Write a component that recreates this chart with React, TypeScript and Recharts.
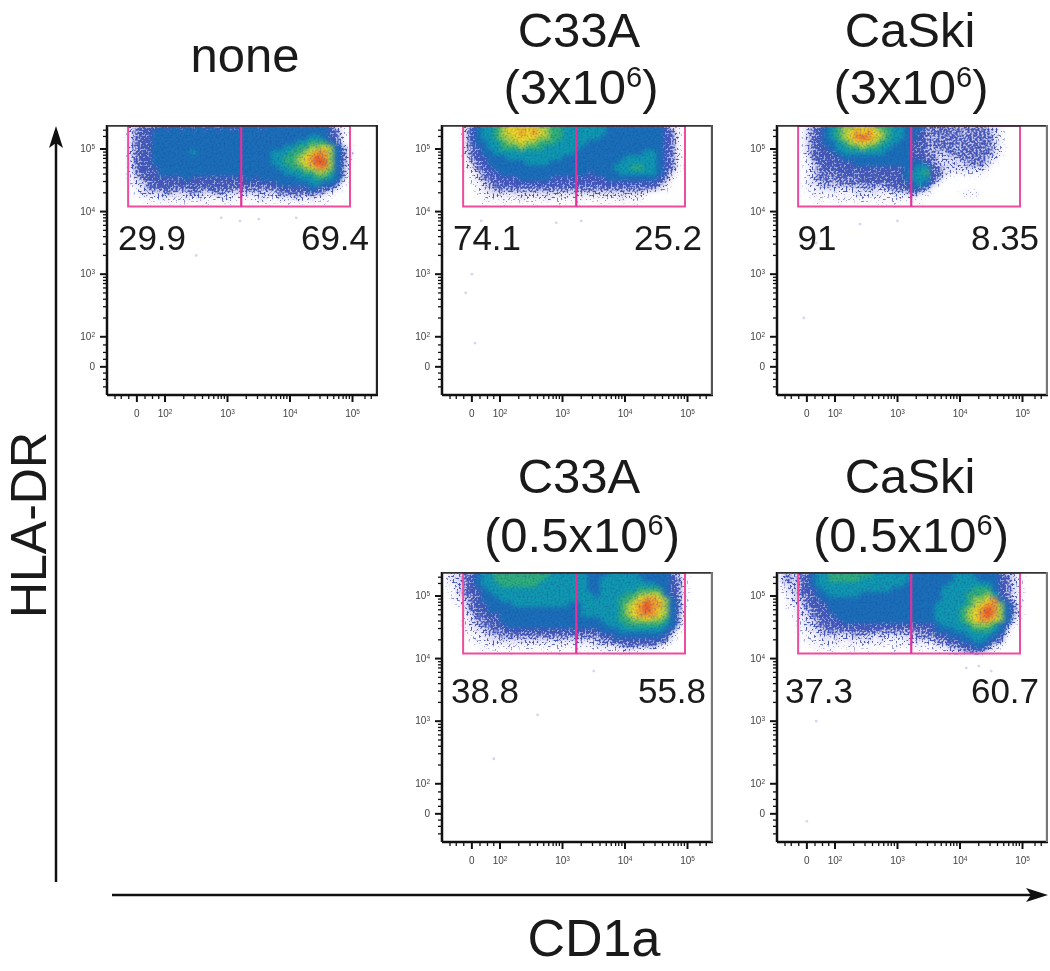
import React from "react";
import { ScatterChart, Scatter, XAxis, YAxis } from "recharts";

const FONT = "'Liberation Sans', Arial, sans-serif";

// Sample labels and gate percentages
const panelNames = ["none", "C33A 3", "CaSki 3", "C33A 0.5", "CaSki 0.5"];
const leftGate = ["29.9", "74.1", "91", "38.8", "37.3"];
const rightGate = ["69.4", "25.2", "8.35", "55.8", "60.7"];

// Axis tick values, in decades on the display scale
const majorX = [1.55, 2, 3, 4, 5];
const majorY = [1.52, 2, 3, 4, 5];
const tickName: Record<string, string> = { "1.55": "0", "1.52": "0", "2": "2", "3": "3", "4": "4", "5": "5" };
const minorX = [1.2, 1.3, 1.42, 1.68, 1.8, 1.9, 2.3, 2.48, 2.6, 2.7, 2.78, 2.85, 2.9, 2.95, 3.3, 3.48, 3.6, 3.7, 3.78, 3.85, 3.9, 3.95, 4.3, 4.48, 4.6, 4.7, 4.78, 4.85, 4.9, 4.95, 5.2, 5.3];
const minorY = [1.2, 1.32, 1.42, 1.64, 1.75, 1.87, 2.3, 2.48, 2.6, 2.7, 2.78, 2.85, 2.9, 2.95, 3.3, 3.48, 3.6, 3.7, 3.78, 3.85, 3.9, 3.95, 4.3, 4.48, 4.6, 4.7, 4.78, 4.85, 4.9, 4.95, 5.2, 5.3];

// Gate, in axis units
const gateLeft = 1.41;
const gateRight = 4.96;
const gateDivide = 3.22;
const gateBottom = 4.08;
const gateTop = 5.37;
const xMax = 5.408;
const xMin = 1.072;
const yMax = 5.383;
const yMin = 1.07;

// Density grid: one string per row, top to bottom; each char is a density level
const gridStartX = [1.456, 1.456, 1.456, 1.156, 1.156];
const gridStepX = 0.1;
const gridStartY = 5.335;
const gridStepY = 0.08;

const densityNone = [
  "2344454545454545445554" + "55555555554210",
  "2344555555555555555555" + "55555555554310",
  "2344555555555555555555" + "55555556654310",
  "2344555555555555555555" + "55555667775310",
  "2344555555555555555555" + "55566778898531",
  "2344555555655555555555" + "56667789aa8531",
  "2344555555555555555555" + "5667789aba8531",
  "2344555555555555555555" + "5667789abb8531",
  "2344455555555555555555" + "55667789aa8530",
  "1344455555555555555555" + "55566677887530",
  "1234444445444444444545" + "55555666776520",
  "1223444444444444444444" + "44555556655310",
  "0123334333433434333333" + "33444445443200",
  "0122223222322232222222" + "22333333321000",
  "0011121112121112111112" + "11212212110000",
  "0001001010001000100010" + "10010101010000",
];
const densityC33A3 = [
  "245667899999887766666665555555554210",
  "245667899a9a987766666665555555554310",
  "245667889999887766666655555555554310",
  "235566788988777666665555555555554310",
  "234566777877766666655555555555554310",
  "234556666666666666555555555556654310",
  "134455566666666655555555556666654310",
  "123455555566665555555555566666654310",
  "123445555555555555555555666776654310",
  "012344555555555555554555566666653200",
  "012334444555554444444445555555543100",
  "011233444444444444444444444444432000",
  "001223333333333333333333333333321000",
  "001122222222222222222222222221000000",
  "000111111211121111111111121110000000",
  "000100100001000100100010000100000000",
];
const densityCaSki3 = [
  "023456788999877665553333333333221000",
  "023456789a9a987665543333332333321000",
  "023456789aba987665543233333333321000",
  "023455678999876655443333333333321000",
  "023445667787766555443233323333321000",
  "023444566666665555443322333333321000",
  "013444455555555555443322223333220000",
  "012344444555555555554322222333200000",
  "012344444444444445566432222222100000",
  "012333344444444445667432111111000000",
  "012333333344444445666431000000000000",
  "012232333333333444565310000000000000",
  "011222222223223334543100000000000000",
  "001111111221211222321000001110000000",
  "001101111111111111100000000000000000",
  "000100100010010100010000000000000000",
];
const densityC33A05 = [
  "122" + "3456677777777766666655" + "56666655555421",
  "122" + "3456677777777666666655" + "66666665555431",
  "112" + "3456667777776666666655" + "66666666655431",
  "012" + "3445666666666666666655" + "66666677775431",
  "012" + "3345566666666666666665" + "66667788985431",
  "011" + "2345556666666666666666" + "6667789aa98531",
  "001" + "2344555566666666655666" + "666789abaa8531",
  "000" + "2344555555555555555666" + "666789aba98531",
  "000" + "1234445555555555555666" + "666789aaa98530",
  "000" + "1233445555555555555555" + "66677889887530",
  "000" + "1223344555555555555555" + "56667777776520",
  "000" + "1122333444444444444444" + "55566666665310",
  "000" + "0112223333333333333333" + "44555555554200",
  "000" + "0111222222222222222222" + "33444444443100",
  "000" + "0011111111111111111112" + "22233333321000",
  "000" + "0001010100100101001010" + "11112111100000",
];
const densityCaSki05 = [
  "232" + "3456677777776666665555" + "55566655554321",
  "232" + "3456677777666666665555" + "55566665554321",
  "122" + "3456666666666666655555" + "55666666654321",
  "122" + "3445666666666665555555" + "56666677754321",
  "012" + "3345566666555555555555" + "56666777864321",
  "012" + "2344555555555555555555" + "566667889a5321",
  "011" + "2344455555555555555555" + "66666789aa8531",
  "001" + "2234455555555555555555" + "666678 9aba8531".split(" ").join(""),
  "001" + "2234445555555555555555" + "6666789aba8531",
  "000" + "1223444555555555555555" + "6666789aa98520",
  "000" + "1223344444444444444444" + "56666788875310",
  "000" + "1122333333443333333334" + "55566677765200",
  "000" + "0112222223222222222333" + "44555666654100",
  "000" + "0111212121221211122222" + "33445566543000",
  "000" + "0011111011101101111111" + "22334455321000",
  "000" + "0001010010010001000101" + "11223443210000",
];
densityCaSki05[7] = "001" + "2234455555555555555555" + "6666789aba8531";
const densityGrids = [densityNone, densityC33A3, densityCaSki3, densityC33A05, densityCaSki05];

// Stray events outside the main population
const straysNone = [[2.9, 3.9], [3.2, 3.85], [3.5, 3.88], [4.1, 3.9], [2.5, 3.3]];
const straysC33A3 = [[1.55, 3.0], [1.45, 2.7], [1.7, 3.85], [2.9, 3.82], [3.3, 3.85], [1.6, 1.9]];
const straysCaSki3 = [[1.7, 3.5], [1.5, 2.3], [2.4, 3.8], [3.0, 3.85]];
const straysC33A05 = [[2.6, 3.1], [1.9, 2.4], [3.5, 3.8]];
const straysCaSki05 = [[4.3, 3.88], [4.5, 3.8], [4.1, 3.85], [1.7, 3.0], [1.55, 1.4]];
const straySets = [straysNone, straysC33A3, straysCaSki3, straysC33A05, straysCaSki05];

// Layout
const panelLeft = [107, 442, 777, 442, 777];
const panelTop = [125, 125, 125, 572, 572];
const panelRightStroke = ["#222", "#555", "#777", "#777", "#777"];
const PW = 271;
const PH = 270;
const ML = 45;
const MT = 8;
const MR = 8;
const MB = 28;

const levelColors: Record<string, string> = {
  "5": "#1a6fb8",
  "6": "#0f9ab0",
  "7": "#2fb277",
  "8": "#a6d245",
  "9": "#f3da22",
  a: "#f8962a",
  b: "#ef5424",
};
const sparseColors: Record<string, [string, number]> = {
  "1": ["#c4baec", 0.2],
  "2": ["#9b96de", 0.42],
  "3": ["#5f66c4", 0.66],
  "4": ["#2f5cb4", 0.88],
};

const Sup = ({ n }: { n: string }) => <tspan dy={-3} fontSize={6.5}>{n}</tspan>;

const XTick = ({ x, y, payload }: any) => {
  const name = tickName[String(payload.value)];
  const major = name !== undefined;
  return (
    <g>
      <line x1={x} x2={x} y1={y} y2={y + (major ? 7 : 4)} stroke="#111" strokeWidth={major ? 2 : 1.3} />
      {major && (
        <text x={x} y={y + 22} textAnchor="middle" fontSize={10} fill="#444" fontFamily={FONT}>
          {name === "0" ? "0" : <>10<Sup n={name} /></>}
        </text>
      )}
    </g>
  );
};
const YTick = ({ x, y, payload }: any) => {
  const name = tickName[String(payload.value)];
  const major = name !== undefined;
  return (
    <g>
      <line x1={x} x2={x - (major ? 7 : 4)} y1={y} y2={y} stroke="#111" strokeWidth={major ? 2 : 1.3} />
      {major && (
        <text x={x - 12} y={y + 3} textAnchor="end" fontSize={10} fill="#444" fontFamily={FONT}>
          {name === "0" ? "0" : <>10<Sup n={name} /></>}
        </text>
      )}
    </g>
  );
};

const DenseCell = ({ cx, cy, payload }: any) => (
  <rect x={cx - 3.6} y={cy - 3} width={7.2} height={6} fill={levelColors[payload.level]} />
);
const SparseCell = ({ cx, cy, payload }: any) => {
  const s = sparseColors[payload.level];
  return <rect x={cx - 3.6} y={cy - 3} width={7.2} height={6} fill={s ? s[0] : "#2b5cb4"} fillOpacity={s ? s[1] : 1} />;
};
const StrayDot = ({ cx, cy }: any) => <circle cx={cx} cy={cy} r={1.4} fill="#d9d3ee" />;
const NoMark = () => <g />;

const Panel = ({ idx }: { idx: number }) => {
  const cells: { x: number; y: number; level: string }[] = [];
  densityGrids[idx].forEach((row, r) => {
    row.split("").forEach((level, c) => {
      if (level !== "0") cells.push({ x: gridStartX[idx] + gridStepX * c, y: gridStartY - gridStepY * r, level });
    });
  });
  const dense = cells.filter((d) => !sparseColors[d.level]);
  const strays = straySets[idx].map(([x, y]) => ({ x, y }));
  const gateBox = [
    { x: gateLeft, y: gateTop }, { x: gateLeft, y: gateBottom }, { x: gateRight, y: gateBottom }, { x: gateRight, y: gateTop },
  ];
  const gateDiv = [{ x: gateDivide, y: gateBottom }, { x: gateDivide, y: gateTop }];
  const gateCap = [{ x: gateLeft, y: gateTop }, { x: gateRight, y: gateTop }];
  const frameTop = [{ x: xMin, y: yMax - 0.01 }, { x: xMax, y: yMax - 0.01 }];
  const frameRight = [{ x: xMax - 0.015, y: yMax }, { x: xMax - 0.015, y: yMin }];
  return (
    <div style={{ position: "absolute", left: panelLeft[idx] - ML, top: panelTop[idx] - MT }}>
      <ScatterChart width={PW + ML + MR} height={PH + MT + MB} margin={{ top: MT, right: MR, bottom: 0, left: 0 }}>
        <XAxis type="number" dataKey="x" domain={[xMin, xMax]} ticks={[...minorX, ...majorX]} interval={0} allowDataOverflow height={MB} tick={XTick} tickLine={false} tickSize={0} tickMargin={0} axisLine={{ stroke: "#111", strokeWidth: 2.5 }} />
        <YAxis type="number" dataKey="y" domain={[yMin, yMax]} ticks={[...minorY, ...majorY]} interval={0} allowDataOverflow width={ML} tick={YTick} tickLine={false} tickSize={0} tickMargin={0} axisLine={{ stroke: "#111", strokeWidth: 2.5 }} />
        <Scatter name="sparse" data={cells} className="density-sparse" shape={SparseCell} isAnimationActive={false} />
        <Scatter name={panelNames[idx]} data={dense} className="density-dense" shape={DenseCell} isAnimationActive={false} />
        <Scatter name="strays" data={strays} shape={StrayDot} isAnimationActive={false} />
        <Scatter name="gate" data={gateBox} shape={NoMark} line={{ stroke: "#ee4d9d", strokeWidth: 2 }} isAnimationActive={false} />
        <Scatter name="divide" data={gateDiv} shape={NoMark} line={{ stroke: "#e2329a", strokeWidth: 2.2 }} isAnimationActive={false} />
        <Scatter name="cap" data={gateCap} shape={NoMark} line={{ stroke: "#8a1650", strokeWidth: 2 }} isAnimationActive={false} />
        <Scatter name="frameTop" data={frameTop} shape={NoMark} line={{ stroke: "#333", strokeWidth: 2 }} isAnimationActive={false} />
        <Scatter name="frameRight" data={frameRight} shape={NoMark} line={{ stroke: panelRightStroke[idx], strokeWidth: 2.5 }} isAnimationActive={false} />
      </ScatterChart>
    </div>
  );
};

const titleLines = [
  { t: "none", x: 245, y: 72 },
  { t: "C33A", x: 579, y: 47 },
  { t: "CaSki", x: 910, y: 47 },
  { t: "C33A", x: 579, y: 493 },
  { t: "CaSki", x: 910, y: 493 },
];
const titleCounts = [
  { t: "(3x10", s: "6", x: 581, y: 104 },
  { t: "(3x10", s: "6", x: 911, y: 104 },
  { t: "(0.5x10", s: "6", x: 582, y: 552 },
  { t: "(0.5x10", s: "6", x: 911, y: 552 },
];
const gateLabelX = [[152, 335], [487, 668], [817, 1005], [485, 672], [819, 1005]];
const gateLabelY = [250, 250, 250, 703, 703];

export default function App() {
  return (
    <div style={{ position: "absolute", left: 0, top: 0, width: 1050, height: 971, background: "#fff", overflow: "hidden", filter: "blur(0.55px)" }}>
      <style>{`.density-sparse{filter:url(#dither)}.density-dense{filter:url(#grainy)}`}</style>
      <svg width={0} height={0} style={{ position: "absolute" }}>
        <defs>
          <filter id="dither" x="-5%" y="-10%" width="110%" height="120%" colorInterpolationFilters="sRGB">
            <feGaussianBlur in="SourceGraphic" stdDeviation="2.2" result="b" />
            <feTurbulence type="fractalNoise" baseFrequency="0.5" numOctaves="2" seed="4" result="n" />
            <feColorMatrix in="n" type="matrix" values="0 0 0 0 0  0 0 0 0 0  0 0 0 0 0  2.6 0 0 0 -0.8" result="na" />
            <feComposite in="b" in2="na" operator="arithmetic" k1="0" k2="1" k3="1" k4="-1" result="sum" />
            <feColorMatrix in="sum" type="matrix" values="0 0 0 0 0  0 0 0 0 0  0 0 0 0 0  0 0 0 3 0" result="d" />
            <feFlood floodColor="#4456b8" />
            <feComposite in2="d" operator="in" result="dots" />
            <feComponentTransfer in="b" result="haze"><feFuncA type="linear" slope="0.6" /></feComponentTransfer>
            <feMerge result="m"><feMergeNode in="haze" /><feMergeNode in="dots" /></feMerge>
            <feGaussianBlur in="m" stdDeviation="0.6" />
          </filter>
          <filter id="grainy" x="-5%" y="-10%" width="110%" height="120%" colorInterpolationFilters="sRGB">
            <feGaussianBlur in="SourceGraphic" stdDeviation="2.2" result="b" />
            <feTurbulence type="fractalNoise" baseFrequency="0.5" numOctaves="2" seed="9" result="n" />
            <feColorMatrix in="n" type="matrix" values="0 0 0 0 0.1  0 0 0 0 0.25  0 0 0 0 0.6  1.0 0 0 0 -0.42" result="na" />
            <feComposite in="na" in2="b" operator="in" result="g" />
            <feMerge><feMergeNode in="b" /><feMergeNode in="g" /></feMerge>
          </filter>
        </defs>
      </svg>
      {panelNames.map((_, i) => <Panel key={i} idx={i} />)}
      <svg width={1050} height={971} style={{ position: "absolute", left: 0, top: 0, pointerEvents: "none" }} fontFamily={FONT} fill="#1a1a1a">
        {titleLines.map((d, i) => <text key={i} x={d.x} y={d.y} fontSize={49} textAnchor="middle">{d.t}</text>)}
        {titleCounts.map((d, i) => (
          <text key={i} x={d.x} y={d.y} fontSize={49} textAnchor="middle">{d.t}<tspan dy={-17} fontSize={29}>{d.s}</tspan><tspan dy={17}>)</tspan></text>
        ))}
        {leftGate.map((t, i) => <text key={i} x={gateLabelX[i][0]} y={gateLabelY[i]} fontSize={35} textAnchor="middle">{t}</text>)}
        {rightGate.map((t, i) => <text key={i} x={gateLabelX[i][1]} y={gateLabelY[i]} fontSize={35} textAnchor="middle">{t}</text>)}
        <text transform="translate(46,525) rotate(-90)" fontSize={50} textAnchor="middle">HLA-DR</text>
        <text x={594} y={956} fontSize={52} textAnchor="middle">CD1a</text>
        <line x1={56} y1={882} x2={56} y2={135} stroke="#111" strokeWidth={2.5} />
        <path d="M56 126 L49 148 L56 143 L63 148 Z" fill="#111" />
        <line x1={112} y1={895} x2={1040} y2={895} stroke="#111" strokeWidth={2.5} />
        <path d="M1048 895 L1026 888 L1031 895 L1026 902 Z" fill="#111" />
      </svg>
    </div>
  );
}
